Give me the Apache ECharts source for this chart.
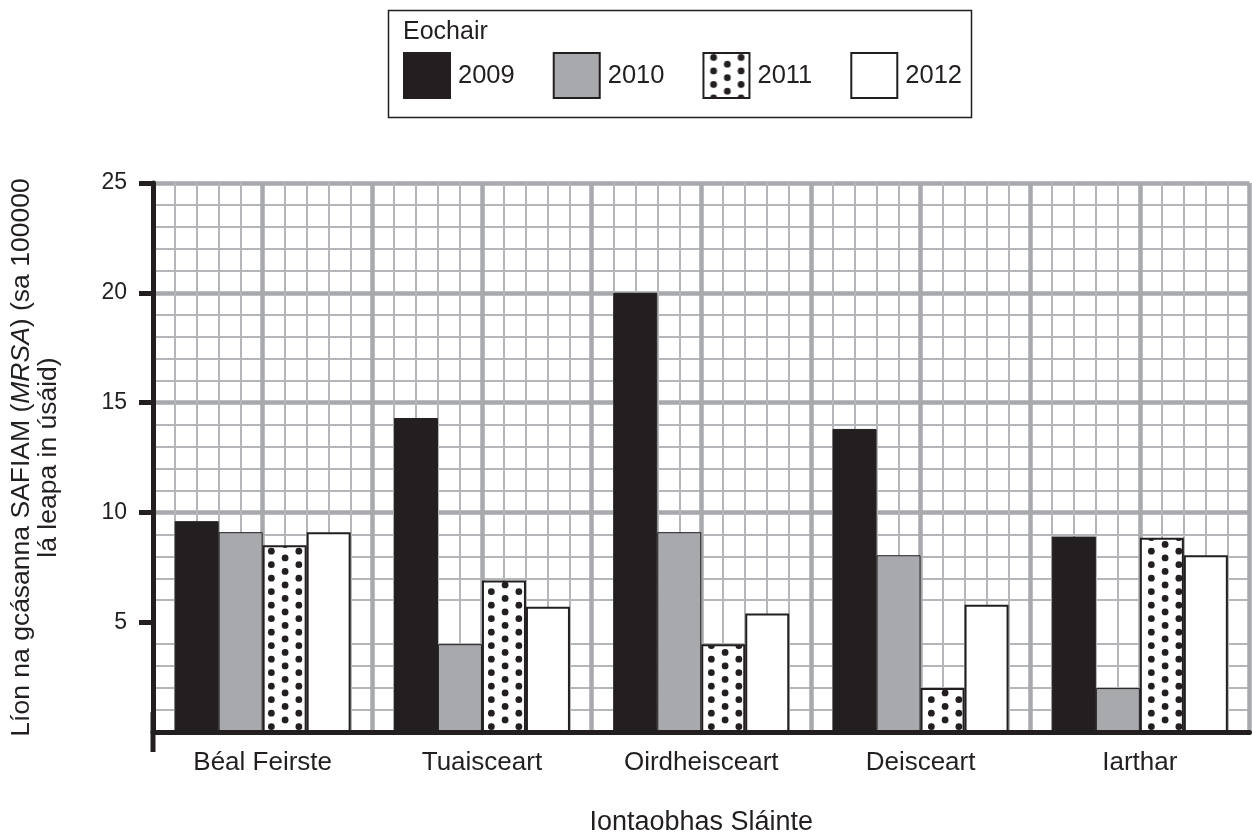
<!DOCTYPE html>
<html><head><meta charset="utf-8">
<script src="https://cdn.jsdelivr.net/npm/echarts@6/dist/echarts.min.js"></script>
<style>html,body{margin:0;padding:0;background:#fff}#c{width:1252px;height:838px}</style>
</head><body><div id="c"></div>
<script>
const categories = ['Béal Feirste', 'Tuaisceart', 'Oirdheisceart', 'Deisceart', 'Iarthar'];
const years = ['2009', '2010', '2011', '2012'];
const v2009 = [9.6, 14.3, 20.0, 13.8, 8.9];
const v2010 = [9.1, 4.0, 9.1, 8.05, 2.0];
const v2011 = [8.5, 6.9, 4.0, 2.0, 8.85];
const v2012 = [9.1, 5.7, 5.4, 5.8, 8.05];
const yTicks = [5, 10, 15, 20, 25];

const BLACK = '#231f20', GREY = '#a7a9ac', MINOR = '#b4b6b9';
const FONT = '"Liberation Sans", Arial, sans-serif';

function dotPattern() {
  const c = document.createElement('canvas');
  c.width = 55; c.height = 27;
  const g = c.getContext('2d');
  g.fillStyle = '#fff'; g.fillRect(0, 0, 55, 27);
  g.fillStyle = BLACK;
  const colsA = [23.85, 51.35], colsB = [10.1, 37.6];
  const rowsA = [11.2, 24.7], rowsB = [4.45, 17.95];
  const dot = (x, y) => { for (const dy of [-27, 0, 27]) { g.beginPath(); g.arc(x, y + dy, 3.4, 0, Math.PI * 2); g.fill(); } };
  colsA.forEach(x => rowsA.forEach(y => dot(x, y)));
  colsB.forEach(x => rowsB.forEach(y => dot(x, y)));
  return c;
}

const chart = echarts.init(document.getElementById('c'), null, { renderer: 'canvas' });
const barBase = { type: 'bar', barWidth: 44, barGap: '0%', xAxisIndex: 0, yAxisIndex: 0 };
chart.setOption({
  animation: false,
  backgroundColor: '#fff',
  textStyle: { fontFamily: FONT, color: BLACK },
  grid: { left: 153, right: 2.5, top: 183, bottom: 106, containLabel: false, outerBoundsMode: 'none' },
  legend: {
    data: years, left: 403, top: 52, padding: 0, itemWidth: 46, itemHeight: 45, itemGap: 38,
    icon: 'rect', selectedMode: false,
    textStyle: { fontSize: 25.5, color: BLACK, fontFamily: FONT, padding: [0, 0, 0, 3] }
  },
  graphic: [
    { type: 'rect', left: 386, top: 8, shape: { width: 583, height: 107 }, style: { fill: 'none', stroke: BLACK, lineWidth: 1.5 }, z: 10 },
    { type: 'text', left: 403, top: 20, style: { text: 'Eochair', font: '25px ' + FONT, fill: BLACK }, z: 10 }
  ],
  xAxis: [
    {
      type: 'category', data: categories, position: 'bottom', z: 3,
      axisLine: { lineStyle: { color: BLACK, width: 5 } },
      axisTick: { show: false },
      axisLabel: { fontSize: 26, color: BLACK, margin: 18, fontFamily: FONT },
      splitLine: { show: false },
      name: 'Iontaobhas Sláinte', nameLocation: 'middle', nameGap: 77,
      nameTextStyle: { fontSize: 27, color: BLACK, fontFamily: FONT }
    },
    {
      type: 'value', min: 0, max: 50, interval: 5, position: 'top',
      axisLine: { show: false }, axisTick: { show: false }, axisLabel: { show: false },
      splitLine: { show: true, showMinLine: false, showMaxLine: true, lineStyle: { color: GREY, width: 4.5 } },
      minorTick: { show: false, splitNumber: 5 },
      minorSplitLine: { show: true, lineStyle: { color: MINOR, width: 2 } }
    }
  ],
  yAxis: [{
    type: 'value', min: 0, max: 25, interval: 5,
    axisLine: { show: true, lineStyle: { color: BLACK, width: 5 }, symbol: ['rect', 'none'], symbolSize: [5, 40] },
    axisTick: { show: true, length: 14, lineStyle: { color: BLACK, width: 5 }, customValues: yTicks },
    axisLabel: { customValues: yTicks, fontSize: 23, color: BLACK, margin: 26, fontFamily: FONT },
    splitLine: { show: true, showMinLine: false, lineStyle: { color: GREY, width: 4.5 } },
    minorTick: { show: false, splitNumber: 5 },
    minorSplitLine: { show: true, lineStyle: { color: MINOR, width: 2 } },
    name: 'Líon na gcásanna SAFIAM ({i|MRSA}) (sa 100000\nlá leapa in úsáid)',
    nameLocation: 'middle', nameGap: 91,
    nameTextStyle: {
      fontSize: 26.5, color: BLACK, fontFamily: FONT, lineHeight: 27,
      rich: { i: { fontStyle: 'italic', fontSize: 26.5, color: BLACK, fontFamily: FONT, lineHeight: 27 } }
    }
  }],
  series: [
    Object.assign({}, barBase, { name: years[0], data: v2009, itemStyle: { color: BLACK, borderColor: BLACK, borderWidth: 1 } }),
    Object.assign({}, barBase, { name: years[1], data: v2010, itemStyle: { color: GREY, borderColor: BLACK, borderWidth: 1 } }),
    Object.assign({}, barBase, { name: years[2], data: v2011, itemStyle: { color: { image: dotPattern(), repeat: 'repeat' }, borderColor: BLACK, borderWidth: 2 } }),
    Object.assign({}, barBase, { name: years[3], data: v2012, itemStyle: { color: '#ffffff', borderColor: BLACK, borderWidth: 2 } })
  ]
});
</script>
</body></html>
